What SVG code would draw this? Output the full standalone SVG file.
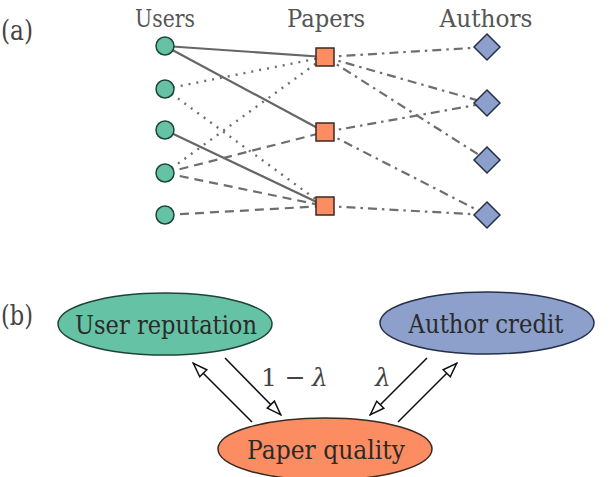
<svg xmlns="http://www.w3.org/2000/svg" width="610" height="477" viewBox="0 0 610 477" font-family="'DejaVu Serif', 'Liberation Serif', serif">
<style>
text{font-family:"DejaVu Serif","Liberation Serif",serif;}
.lab{fill:#555;font-size:25px;text-anchor:middle;}
.panel{fill:#444;font-size:27px;}
.elab{fill:#2a2a2a;font-size:26px;text-anchor:middle;}
.math{fill:#444;font-size:25px;}
.e{stroke:#6e6e6e;stroke-width:2.2;fill:none;}
.solid{stroke:#666;}
.dot{stroke-dasharray:2 6;stroke-width:2.4;}
.dash{stroke-dasharray:9 6;}
.dd{stroke-dasharray:9 5 2.5 5;}
.user{fill:#66c2a5;stroke:#1e4436;stroke-width:1.5;}
.paper{fill:#fc8d62;stroke:#3a2a22;stroke-width:1.5;}
.author{fill:#8da0cb;stroke:#262f48;stroke-width:1.5;}
.arr{stroke:#111;stroke-width:1.6;fill:none;marker-end:url(#open);}
</style>
<defs>
<marker id="open" viewBox="0 0 17 13" refX="16" refY="6.5" markerWidth="17" markerHeight="13" markerUnits="userSpaceOnUse" orient="auto">
<path d="M1.5,1.5 L15.5,6.5 L1.5,11.5 Z" fill="#fff" stroke="#111" stroke-width="1.5" stroke-linejoin="miter"/>
</marker>
</defs>
<text class="panel" x="1" y="40" textLength="32" lengthAdjust="spacingAndGlyphs">(a)</text>
<text class="panel" x="1" y="325" textLength="32" lengthAdjust="spacingAndGlyphs">(b)</text>
<text class="lab" x="165" y="27" textLength="60" lengthAdjust="spacingAndGlyphs">Users</text>
<text class="lab" x="326" y="27" textLength="78" lengthAdjust="spacingAndGlyphs">Papers</text>
<text class="lab" x="486" y="27" textLength="93" lengthAdjust="spacingAndGlyphs">Authors</text>
<g id="connectors">
<line class="e solid" x1="165" y1="46" x2="325" y2="57"/>
<line class="e solid" x1="165" y1="46" x2="325" y2="132"/>
<line class="e solid" x1="165" y1="130" x2="325" y2="206"/>
<line class="e dot" x1="165" y1="89" x2="325" y2="57"/>
<line class="e dot" x1="165" y1="89" x2="325" y2="206"/>
<line class="e dot" x1="165" y1="173" x2="325" y2="57"/>
<line class="e dash" x1="165" y1="173" x2="325" y2="132"/>
<line class="e dash" x1="165" y1="173" x2="325" y2="206"/>
<line class="e dash" x1="165" y1="215" x2="325" y2="206"/>
<line class="e dd" x1="325" y1="57" x2="487" y2="47"/>
<line class="e dd" x1="325" y1="57" x2="487" y2="103"/>
<line class="e dd" x1="325" y1="57" x2="487" y2="160"/>
<line class="e dd" x1="325" y1="132" x2="487" y2="103"/>
<line class="e dd" x1="325" y1="132" x2="487" y2="215"/>
<line class="e dd" x1="325" y1="206" x2="487" y2="215"/>
<line class="arr" x1="252" y1="422" x2="193" y2="363"/>
<line class="arr" x1="225" y1="358" x2="281" y2="415"/>
<line class="arr" x1="427" y1="358" x2="370" y2="415"/>
<line class="arr" x1="398" y1="422" x2="457" y2="363"/>
</g>
<g id="u1"><circle class="user" cx="165" cy="46" r="9"/></g>
<g id="u2"><circle class="user" cx="165" cy="89" r="9"/></g>
<g id="u3"><circle class="user" cx="165" cy="130" r="9"/></g>
<g id="u4"><circle class="user" cx="165" cy="173" r="9"/></g>
<g id="u5"><circle class="user" cx="165" cy="215" r="9"/></g>
<g id="p1"><rect class="paper" x="316" y="48" width="18" height="18"/></g>
<g id="p2"><rect class="paper" x="316" y="123" width="18" height="18"/></g>
<g id="p3"><rect class="paper" x="316" y="197" width="18" height="18"/></g>
<g id="a1"><polygon class="author" points="487,34 500,47 487,60 474,47"/></g>
<g id="a2"><polygon class="author" points="487,90 500,103 487,116 474,103"/></g>
<g id="a3"><polygon class="author" points="487,147 500,160 487,173 474,160"/></g>
<g id="a4"><polygon class="author" points="487,202 500,215 487,228 474,215"/></g>
<g id="user-reputation">
<ellipse class="user" cx="165" cy="324" rx="107" ry="31"/>
<text class="elab" x="166" y="334" textLength="182" lengthAdjust="spacingAndGlyphs">User reputation</text>
</g>
<g id="author-credit">
<ellipse class="author" cx="487" cy="323" rx="107" ry="31"/>
<text class="elab" x="486" y="333" textLength="155" lengthAdjust="spacingAndGlyphs">Author credit</text>
</g>
<g id="paper-quality">
<ellipse class="paper" cx="325" cy="449" rx="107" ry="31"/>
<text class="elab" x="326" y="459" textLength="158" lengthAdjust="spacingAndGlyphs">Paper quality</text>
</g>
<text class="math" x="261" y="386">1 −</text>
<text class="math" x="312" y="386" font-style="italic">λ</text>
<text class="math" x="375" y="386" font-style="italic">λ</text>
</svg>
